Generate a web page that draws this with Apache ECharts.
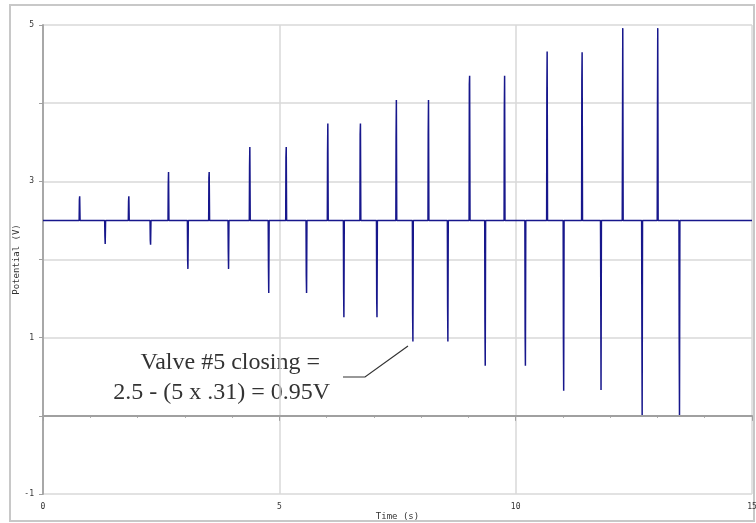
<!DOCTYPE html>
<html>
<head>
<meta charset="utf-8">
<script src="https://cdn.jsdelivr.net/npm/echarts@6/dist/echarts.min.js"></script>
<style>
  html, body { margin: 0; padding: 0; background: #fff; }
  #chart { width: 756px; height: 523px; }
</style>
</head>
<body>
<div id="chart"></div>
<script>
// valve opening spikes (s, V)
const openTimes = [0.77, 1.81, 2.65, 3.51, 4.37, 5.14, 6.02, 6.71, 7.47, 8.15, 9.02, 9.76, 10.66, 11.40, 12.26, 13.00];
const openPeaks = [2.81, 2.81, 3.12, 3.12, 3.44, 3.44, 3.74, 3.74, 4.04, 4.04, 4.35, 4.35, 4.66, 4.65, 4.96, 4.96];
const openMids  = [2.76, 2.74, 2.95, 3.05, 3.20, 3.30, 3.35, 3.60, 3.57, 3.62, 4.24, 3.90, 4.10, 4.30, 3.62, 3.85];
// valve closing spikes
const closeTimes   = [1.31, 2.27, 3.06, 3.92, 4.77, 5.57, 6.36, 7.06, 7.82, 8.56, 9.35, 10.20, 11.01, 11.80, 12.67, 13.46];
const closeTroughs = [2.20, 2.19, 1.88, 1.88, 1.57, 1.57, 1.26, 1.26, 0.95, 0.95, 0.64, 0.64, 0.32, 0.33, 0.01, 0.01];
const closeMids    = [2.30, 2.25, 2.00, 2.10, 1.90, 1.80, 1.60, 1.50, 1.30, 1.40, 1.20, 1.10, 1.00, 1.69, 1.24, 0.96];
const baseline = 2.5;
const yLabels = ['-1', '1', '3', '5'];

// build the trace: flat baseline with a narrow spike at each event
let events = [];
openTimes.forEach((t, i) => events.push([t, openMids[i], openPeaks[i]]));
closeTimes.forEach((t, i) => events.push([t, closeMids[i], closeTroughs[i]]));
events.sort((a, b) => a[0] - b[0]);
let trace = [[0, baseline]];
events.forEach(e => {
    trace.push([e[0] - 0.005, baseline]);
    trace.push([e[0], e[1]]);
    trace.push([e[0] + 0.006, e[2]]);
    trace.push([e[0] + 0.014, baseline]);
});
trace.push([15, baseline]);

const myChart = echarts.init(document.getElementById('chart'));
const mono = 'DejaVu Sans Mono';
var option = {
    backgroundColor: '#fff',
    animation: false,
    grid: {
        left: 43,
        right: 4,
        top: 25,
        bottom: 29,
        outerBoundsMode: 'none',
        containLabel: false
    },
    xAxis: {
        type: 'value',
        min: 0,
        max: 15,
        interval: 5,
        name: 'Time (s)',
        nameLocation: 'middle',
        nameGap: 18,
        nameMoveOverlap: false,
        nameTextStyle: { fontFamily: mono, fontSize: 9, color: '#333' },
        axisLine: { lineStyle: { color: '#a0a0a0', width: 2 } },
        axisTick: { show: true, length: 5, lineStyle: { color: '#a0a0a0' } },
        minorTick: { show: true, splitNumber: 5, length: 2, lineStyle: { color: '#a0a0a0' } },
        axisLabel: { fontFamily: mono, fontSize: 8, color: '#333', margin: 9 },
        splitLine: { show: true, lineStyle: { color: '#d8d8d8', width: 1.5 } }
    },
    yAxis: {
        type: 'value',
        min: -1,
        max: 5,
        interval: 1,
        name: 'Potential (V)',
        nameLocation: 'middle',
        nameGap: 22,
        nameMoveOverlap: false,
        nameTextStyle: { fontFamily: mono, fontSize: 9, color: '#333' },
        axisLine: { show: true, lineStyle: { color: '#a8a8a8', width: 2 } },
        axisTick: { show: true, length: 4, lineStyle: { color: '#a0a0a0' } },
        axisLabel: {
            fontFamily: mono, fontSize: 8, color: '#333', margin: 9,
            formatter: v => (yLabels.indexOf(String(v)) >= 0 ? String(v) : '')
        },
        splitLine: { show: true, lineStyle: { color: '#d8d8d8', width: 1.5 } }
    },
    series: [
        {
            type: 'line',
            data: trace,
            showSymbol: false,
            symbol: 'none',
            lineStyle: { color: '#17178c', width: 1.5 }
        }
    ],
    graphic: [
        {
            type: 'rect',
            shape: { x: 10, y: 5, width: 744, height: 516 },
            style: { fill: 'none', stroke: '#c8c8c8', lineWidth: 2 },
            silent: true
        },
        {
            type: 'text',
            x: 320, y: 363,
            style: { text: 'Valve #5 closing =', font: '24px "Liberation Serif"', fill: '#333', align: 'right', verticalAlign: 'middle' }
        },
        {
            type: 'text',
            x: 330, y: 393,
            style: { text: '2.5 - (5 x .31) = 0.95V', font: '24px "Liberation Serif"', fill: '#333', align: 'right', verticalAlign: 'middle' }
        },
        {
            type: 'polyline',
            shape: { points: [[343, 377], [365, 377], [408, 346]] },
            style: { stroke: '#333', lineWidth: 1.2, fill: 'none' }
        }
    ]
};
myChart.setOption(option);
</script>
</body>
</html>
